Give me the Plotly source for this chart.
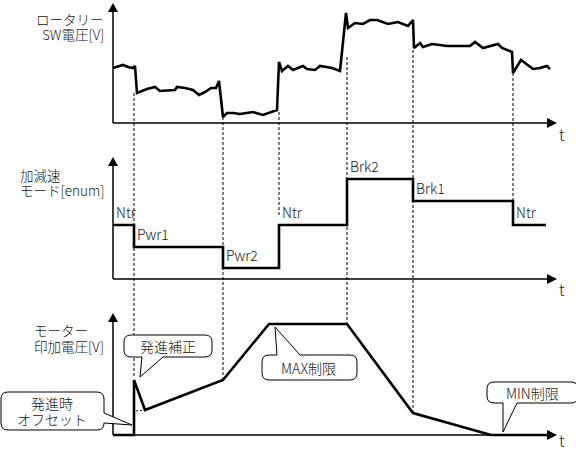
import plotly.graph_objects as go

FONT = "Noto Sans CJK JP"
INK = "#151515"
W, H = 576, 453

# time runs from the origin of each panel (t = 0 at the vertical axis)
event_t = [21, 110, 166, 234, 300, 400]

# top panel: rotary switch voltage
sw_t = [0, 10, 15, 20, 22, 24, 34, 42, 47, 62, 64, 72, 80, 86, 92, 98, 103, 106,
        110, 114, 120, 127, 140, 150, 164, 166, 169, 175, 180, 190, 194, 202, 207,
        219, 227, 233, 235, 242, 250, 257, 264, 275, 285, 295, 300, 301, 307, 310,
        319, 334, 357, 362, 370, 385, 389, 399, 400, 408, 420, 427, 434, 437]
sw_v = [55, 58, 56, 55, 57, 30, 34, 36, 32, 33, 36, 35, 33, 28, 31, 35, 35, 42,
        6, 10, 10, 9, 11, 8, 13, 61, 52, 57, 53, 57, 54, 53, 57,
        55, 52, 110, 95, 100, 99, 103, 103, 99, 101, 97, 103, 75, 80, 76,
        79, 77, 77, 81, 75, 79, 75, 71, 50, 63, 54, 55, 57, 54]

# middle panel: accel / decel mode
mode_t = [0, 21, 110, 166, 234, 300, 400, 433]
mode_seq = ["Ntr", "Pwr1", "Pwr2", "Ntr", "Brk2", "Brk1", "Ntr", "Ntr"]
mode_level = {"Pwr2": 11, "Pwr1": 32, "Ntr": 54, "Brk1": 78, "Brk2": 100}

# bottom panel: motor voltage
motor_t = [0, 21, 21, 32, 110, 156, 234, 300, 378, 434]
motor_v = [0, 0, 55, 25, 55, 111, 111, 22, 0, 0]

# pixel bands of the three panels: top edge, bottom edge, baseline, arrow tip
panels = {
    "y": dict(top=0, bottom=140, base=123, tip=3, t_label=134),
    "y2": dict(top=140, bottom=296, base=279, tip=157, t_label=289),
    "y3": dict(top=296, bottom=453, base=435, tip=313, t_label=440),
}


def paper_y(py):
    return 1 - py / H


def axis_shapes(yref, tip_v):
    x_tip = 444
    line = dict(color="black", width=1.5)
    return [
        dict(type="line", xref="x", yref=yref, x0=0, y0=0, x1=x_tip - 8, y1=0, line=line),
        dict(type="line", xref="x", yref=yref, x0=0, y0=0, x1=0, y1=tip_v - 7, line=line),
        dict(type="path", xref="x", yref=yref, fillcolor="black", line=dict(width=0),
             path=f"M{x_tip - 10},5 L{x_tip},0 L{x_tip - 10},-5 Z"),
        dict(type="path", xref="x", yref=yref, fillcolor="black", line=dict(width=0),
             path=f"M-5,{tip_v - 9} L0,{tip_v} L5,{tip_v - 9} Z"),
    ]


def callout_path(x0, x1, y0, y1, side, b0, b1, tip, r=7):
    tx, ty = tip
    p = [f"M{x0 + r},{y1}"]
    if side == "top":
        p += [f"L{b0},{y1}", f"L{tx},{ty}", f"L{b1},{y1}"]
    p += [f"L{x1 - r},{y1}", f"Q{x1},{y1} {x1},{y1 - r}"]
    if side == "right":
        p += [f"L{x1},{b0}", f"L{tx},{ty}", f"L{x1},{b1}"]
    p += [f"L{x1},{y0 + r}", f"Q{x1},{y0} {x1 - r},{y0}"]
    if side == "bottom":
        p += [f"L{b1},{y0}", f"L{tx},{ty}", f"L{b0},{y0}"]
    p += [f"L{x0 + r},{y0}", f"Q{x0},{y0} {x0},{y0 + r}",
          f"L{x0},{y1 - r}", f"Q{x0},{y1} {x0 + r},{y1}", "Z"]
    return " ".join(p)


fig = go.Figure()

fig.add_trace(go.Scatter(x=sw_t, y=sw_v, mode="lines", yaxis="y",
                         line=dict(color="black", width=2.6)))
fig.add_trace(go.Scatter(x=mode_t, y=[mode_level[m] for m in mode_seq], mode="lines",
                         yaxis="y2", line=dict(color="black", width=2.6, shape="hv")))
fig.add_trace(go.Scatter(x=motor_t, y=motor_v, mode="lines", yaxis="y3",
                         line=dict(color="black", width=2.6)))

shapes = []
annotations = []

# dotted event lines through the panels (pixel extents)
event_span = [(93, 377), (117, 380), (112, 217), (57, 323), (50, 413), (73, 217)]
for t, (p0, p1) in zip(event_t, event_span):
    shapes.append(dict(type="line", xref="x", yref="paper", x0=t, x1=t,
                       y0=paper_y(p0), y1=paper_y(p1), layer="below",
                       line=dict(color="black", width=1, dash="3px,2px")))
shapes.append(dict(type="line", xref="x", yref="y3", x0=23, x1=32, y0=24, y1=25,
                   layer="below", line=dict(color="black", width=1, dash="2px,2px")))

for yref, p in panels.items():
    shapes += axis_shapes(yref, p["base"] - p["tip"])
    annotations.append(dict(text="t", xref="x", yref=yref, x=449, y=p["base"] - p["t_label"],
                            showarrow=False, font=dict(size=16, color=INK, weight=300)))

# mode names at each step
for t, m in zip(mode_t[:-1], mode_seq[:-1]):
    annotations.append(dict(text=m, xref="x", yref="y2", x=t, y=mode_level[m],
                            xanchor="left", yanchor="middle", xshift=1, yshift=13,
                            showarrow=False, font=dict(size=14, color=INK, weight=300)))

# axis titles (one annotation per line to keep the tight line spacing)
titles = [
    ("ロータリー", 106, 19, "right"), ("SW電圧[V]", 106, 34, "right"),
    ("加減速", 18, 175, "left"), ("モード[enum]", 18, 190, "left"),
    ("モーター", 32, 330, "left"), ("印加電圧[V]", 32, 346, "left"),
]
for text, px, py, anchor in titles:
    annotations.append(dict(text=text, xref="paper", yref="paper", x=px / W, y=paper_y(py),
                            xanchor=anchor, yanchor="middle", showarrow=False,
                            font=dict(size=13.5, color=INK, weight=300)))

# callouts in bottom-panel units
callouts = [
    (["発進補正"], (11, 99, 78, 100), "bottom", (29, 50), (27, 58), (55, 89)),
    (["発進時", "オフセット"], (-112, -9, 5, 43), "right", (22, 12), (19, 10), (-61, 24)),
    (["MAX制限"], (149, 244, 55, 80), "top", (164, 187), (162, 108), (195, 67)),
    (["MIN制限"], (374, 465, 32, 53), "bottom", (390, 404), (390, 3), (419, 42)),
]
for lines, (x0, x1, y0, y1), side, (b0, b1), tip, (cx, cy) in callouts:
    shapes.append(dict(type="path", xref="x", yref="y3", fillcolor="white",
                       line=dict(color="black", width=1),
                       path=callout_path(x0, x1, y0, y1, side, b0, b1, tip)))
    n = len(lines)
    for i, text in enumerate(lines):
        annotations.append(dict(text=text, xref="x", yref="y3", x=cx,
                                y=cy + (n - 1) * 8 - i * 16, showarrow=False,
                                font=dict(size=14, color=INK, weight=300)))

axis_style = dict(visible=False, showgrid=False, zeroline=False, fixedrange=True)
layout_axes = {}
for i, (yref, p) in enumerate(panels.items()):
    key = "yaxis" if i == 0 else f"yaxis{i + 1}"
    layout_axes[key] = dict(axis_style, domain=[paper_y(p["bottom"]), paper_y(p["top"])],
                            range=[p["base"] - p["bottom"], p["base"] - p["top"]],
                            anchor="x")

fig.update_layout(
    width=W, height=H, autosize=False,
    margin=dict(l=0, r=0, t=0, b=0, pad=0),
    paper_bgcolor="white", plot_bgcolor="rgba(0,0,0,0)",
    showlegend=False,
    font=dict(family=FONT, color=INK),
    xaxis=dict(axis_style, range=[-113, 463], domain=[0, 1]),
    shapes=shapes, annotations=annotations,
    **layout_axes,
)

# the page body has a default 8px margin; drop it so the figure fills the window
fig.write_html("out.html", config={"staticPlot": True},
               post_script="document.body.style.margin='0';document.body.style.overflow='hidden';")
